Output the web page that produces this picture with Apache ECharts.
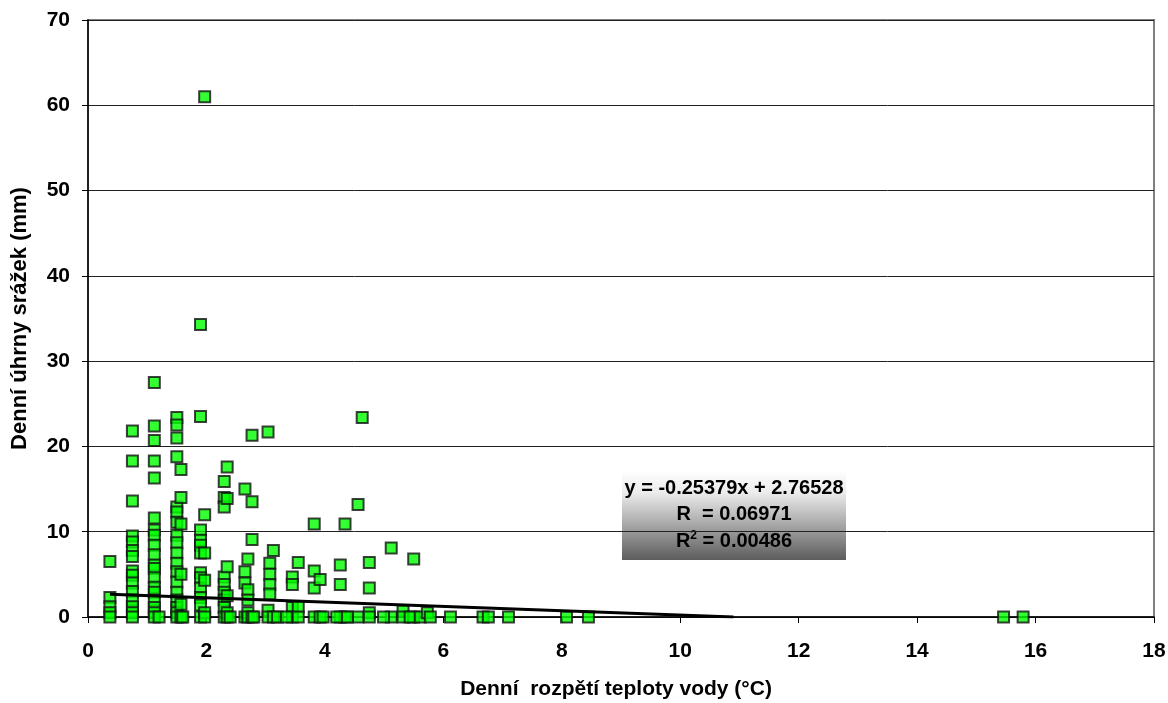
<!DOCTYPE html>
<html>
<head>
<meta charset="utf-8">
<script src="https://cdn.jsdelivr.net/npm/echarts@6/dist/echarts.min.js"></script>
<style>
    html, body { margin: 0; padding: 0; background: #fff; }
    #chart { width: 1168px; height: 703px; }
</style>
</head>
<body>
<div id="chart"></div>
<script>
// rozpětí teploty vody (°C) a denní úhrn srážek (mm), čteno z grafu po sloupcích
const xValues = [
    0.37, 0.37, 0.37, 0.37, 0.37,
    0.75, 0.75, 0.75, 0.75, 0.75, 0.75, 0.75, 0.75, 0.75, 0.75, 0.75, 0.75, 0.75, 0.75, 0.75,
    1.12, 1.12, 1.12, 1.12, 1.12, 1.12, 1.12, 1.12, 1.12, 1.12, 1.12, 1.12, 1.12, 1.12, 1.12, 1.12, 1.12, 1.12, 1.12,
    1.2,
    1.5, 1.5, 1.5, 1.5, 1.5, 1.5, 1.5, 1.5, 1.5, 1.5, 1.5, 1.5, 1.5, 1.5, 1.5, 1.5, 1.5, 1.5,
    1.57, 1.57, 1.57, 1.57, 1.57, 1.57,
    1.9, 1.9, 1.9, 1.9, 1.9, 1.9, 1.9, 1.9, 1.9, 1.9, 1.9, 1.9,
    1.97, 1.97, 1.97, 1.97, 1.97, 1.97,
    2.3, 2.3, 2.3, 2.3, 2.3, 2.3, 2.3, 2.3, 2.3,
    2.35, 2.35, 2.35, 2.35, 2.35, 2.35,
    2.65, 2.65, 2.65, 2.65,
    2.7, 2.7, 2.7, 2.7, 2.7,
    2.77, 2.77, 2.77, 2.77,
    3.04, 3.04, 3.04,
    3.07, 3.07, 3.07, 3.07,
    3.13, 3.13,
    3.45, 3.45, 3.45, 3.45,
    3.55, 3.55, 3.55,
    3.82, 3.82, 3.82, 3.82,
    3.92, 3.92,
    4.26, 4.26, 4.26,
    4.34, 4.34,
    4.56, 4.56,
    4.63,
    4.75, 4.75, 4.75, 4.75,
    5.12, 5.12,
    5.32, 5.32,
    5.5, 5.5,
    1.6, 2.4, 2.8, 3.2, 3.35, 3.97, 4.2, 4.38, 4.99, 5.44, 5.61, 5.73, 5.78,
    6.12, 6.67, 6.76, 7.1, 8.08, 8.45, 15.46, 15.79
];
const yValues = [
    6.5, 2.3, 1.2, 0.5, 0,
    21.8, 18.3, 13.6, 9.5, 8.8, 7.8, 7.1, 5.4, 4.9, 4.0, 3.0, 2.0, 1.2, 0.5, 0,
    27.5, 22.4, 20.7, 18.3, 16.3, 11.6, 10.2, 9.6, 8.4, 7.3, 6.1, 5.7, 4.6, 3.5, 2.9, 2.0, 1.1, 0.5, 0,
    0,
    23.4, 22.5, 21.0, 18.8, 12.9, 12.3, 11.1, 9.6, 8.7, 7.5, 6.3, 5.3, 4.1, 2.9, 2.0, 1.1, 0.5, 0,
    17.3, 14.0, 10.9, 5.0, 1.5, 0,
    23.5, 34.3, 10.2, 9.0, 8.4, 7.5, 5.2, 4.6, 3.4, 2.3, 1.4, 0,
    61.0, 12.0, 7.5, 4.3, 0.5, 0,
    15.9, 14.0, 12.9, 4.7, 3.8, 2.9, 2.0, 1.1, 0,
    17.6, 13.9, 5.9, 2.5, 0.5, 0,
    15.0, 5.3, 4.0, 0,
    6.8, 3.2, 2.0, 0.5, 0,
    21.3, 13.5, 9.1, 0,
    21.7, 0.8, 0,
    6.3, 5.0, 3.8, 2.7,
    7.8, 0,
    4.7, 3.8, 1.1, 0,
    6.4, 1.2, 0,
    10.9, 5.4, 3.4, 0,
    4.4, 0,
    6.1, 3.8, 0,
    10.9, 0,
    13.2, 0,
    23.4,
    6.4, 3.4, 0.5, 0,
    8.1, 0,
    0.7, 0,
    6.8, 0,
    0, 0, 0, 0, 0, 0, 0, 0, 0, 0, 0, 0.5, 0,
    0, 0, 0, 0, 0, 0, 0, 0
];
// lineární trend y = -0.25379x + 2.76528 (koncové body)
const trendX = [0.37, 10.9];
const trendY = [2.67, 0];
const trendLabel = ['y = -0.25379x + 2.76528', 'R  = 0.06971', '0.00486'];

const xTicks = { min: 0, max: 18, interval: 2 };
const yTicks = { min: 0, max: 70, interval: 10 };

const FONT = 'Arial, "Liberation Sans", sans-serif';

function getOption() {
    let points = xValues.map((x, i) => [x, yValues[i]]);
    let trend = trendX.map((x, i) => [x, trendY[i]]);
    return {
        animation: false,
        backgroundColor: '#fff',
        textStyle: { fontFamily: FONT },
        grid: {
            left: 88, right: 14, top: 20, bottom: 86,
            outerBoundsMode: 'none', containLabel: false,
            show: true, borderColor: '#808080', borderWidth: 2, backgroundColor: '#fff'
        },
        xAxis: {
            type: 'value',
            min: xTicks.min, max: xTicks.max, interval: xTicks.interval,
            name: 'Denní  rozpětí teploty vody (°C)',
            nameLocation: 'middle', nameGap: 62,
            nameTextStyle: { fontFamily: FONT, fontWeight: 'bold', fontSize: 21, color: '#000', padding: [0, 10, 0, 0] },
            axisLine: { show: true, onZero: false, lineStyle: { color: '#000', width: 1.5 } },
            axisTick: { show: true, length: 6, lineStyle: { color: '#000' } },
            axisLabel: { fontFamily: FONT, fontWeight: 'bold', fontSize: 21, color: '#000', margin: 24 },
            splitLine: { show: false }
        },
        yAxis: {
            type: 'value',
            min: yTicks.min, max: yTicks.max, interval: yTicks.interval,
            name: 'Denní úhrny srážek (mm)',
            nameLocation: 'middle', nameGap: 57, nameRotate: 90,
            nameTextStyle: { fontFamily: FONT, fontWeight: 'bold', fontSize: 22, color: '#000' },
            axisLine: { show: true, lineStyle: { color: '#000', width: 1.5 } },
            axisTick: { show: true, length: 6, lineStyle: { color: '#000' } },
            axisLabel: { fontFamily: FONT, fontWeight: 'bold', fontSize: 21, color: '#000', margin: 18 },
            splitLine: { show: true, lineStyle: { color: '#222', width: 1 } }
        },
        series: [
            {
                type: 'scatter',
                data: points,
                symbol: 'rect',
                symbolSize: 11,
                itemStyle: { color: '#00ff00', borderColor: '#111', borderWidth: 2 },
                z: 3
            },
            {
                type: 'line',
                data: trend,
                symbol: 'none',
                lineStyle: { color: '#000', width: 3 },
                z: 4
            }
        ],
        graphic: [
            {
                type: 'group',
                left: 622, top: 470,
                z: 10,
                children: [
                    {
                        type: 'rect',
                        shape: { x: 0, y: 0, width: 224, height: 90 },
                        style: {
                            fill: new echarts.graphic.LinearGradient(0, 0, 0, 1, [
                                { offset: 0, color: '#ffffff' },
                                { offset: 0.25, color: '#ececec' },
                                { offset: 1, color: '#5c5c5c' }
                            ])
                        }
                    },
                    {
                        type: 'text',
                        x: 112, y: 18,
                        style: {
                            text: trendLabel[0], align: 'center', verticalAlign: 'middle',
                            font: 'bold 20px ' + FONT, fill: '#000'
                        }
                    },
                    {
                        type: 'text',
                        x: 112, y: 44,
                        style: {
                            text: trendLabel[1], align: 'center', verticalAlign: 'middle',
                            font: 'bold 20px ' + FONT, fill: '#000'
                        }
                    },
                    {
                        type: 'text',
                        x: 112, y: 71,
                        style: {
                            text: '{b|R}{s|2}{b| = ' + trendLabel[2] + '}',
                            align: 'center', verticalAlign: 'middle',
                            rich: {
                                b: { fontFamily: FONT, fontWeight: 'bold', fontSize: 20, fill: '#000', color: '#000' },
                                s: { fontFamily: FONT, fontWeight: 'bold', fontSize: 12, fill: '#000', color: '#000', verticalAlign: 'top', padding: [0, 0, 10, 0] }
                            }
                        }
                    }
                ]
            }
        ]
    };
}

let chart = echarts.init(document.getElementById('chart'));
chart.setOption(getOption(), true);
</script>
</body>
</html>
